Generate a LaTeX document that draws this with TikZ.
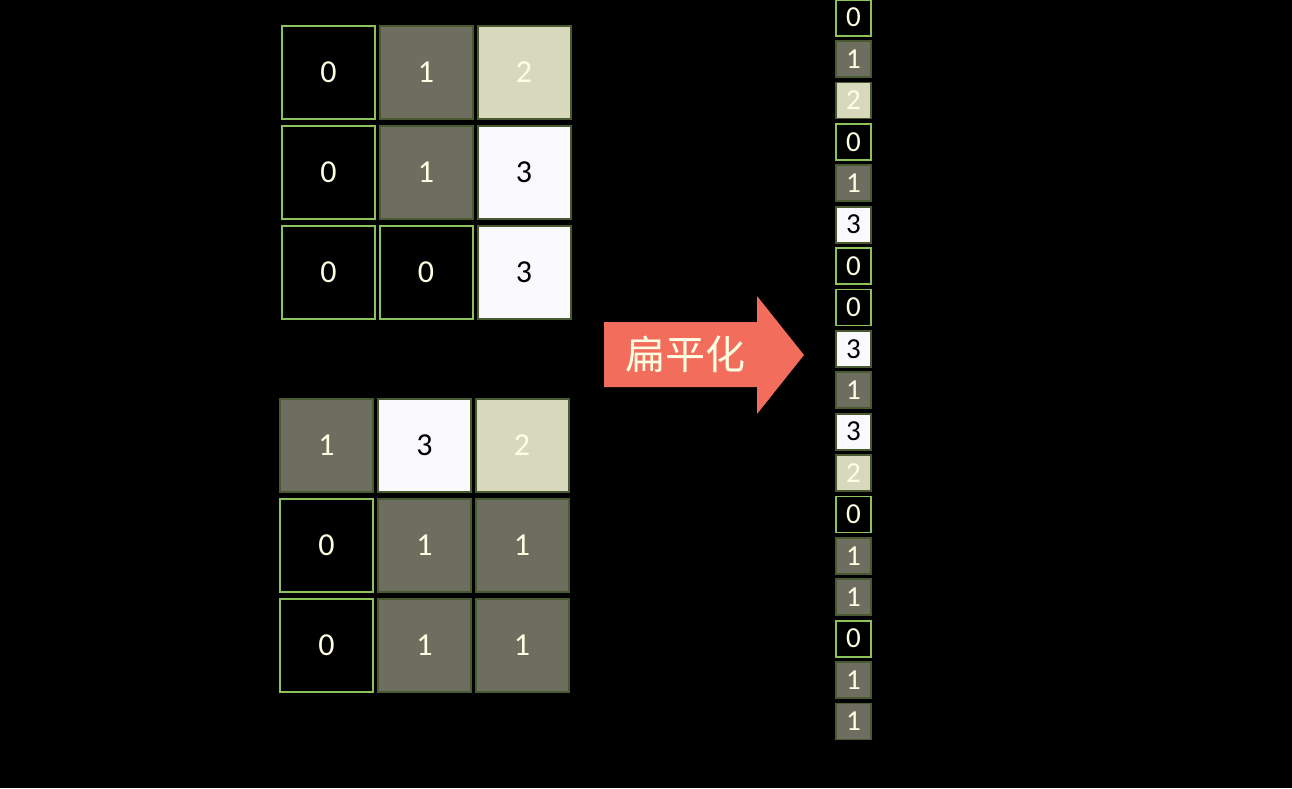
\documentclass[tikz,border=0pt]{standalone}
\usepackage{fontspec}
\setmainfont{Carlito}
\newfontfamily\cjk{Noto Sans CJK SC}
\definecolor{gbright}{HTML}{8CC25A}
\definecolor{gdark}{HTML}{4A5A30}
\definecolor{cgrey}{HTML}{6E6E60}
\definecolor{cbeige}{HTML}{D8D8BC}
\definecolor{cwhite}{HTML}{FAFAFE}
\definecolor{txtlight}{HTML}{FFFFE4}
\definecolor{coral}{HTML}{F36D5C}
\tikzset{
  x=1pt,y=-1pt,
  cellbase/.style={rectangle,inner sep=0pt,line width=2pt,minimum width=93pt,minimum height=93pt,font=\fontsize{32}{32}\selectfont},
  smallbase/.style={rectangle,inner sep=0pt,line width=1.8pt,minimum width=35pt,minimum height=36pt,font=\fontsize{29}{29}\selectfont},
  v0/.style={draw=gbright,fill=black,text=txtlight},
  v1/.style={draw=gdark,fill=cgrey,text=txtlight},
  v2/.style={draw=gdark,fill=cbeige,text=txtlight},
  v3/.style={draw=gdark,fill=cwhite,text=black},
}
\begin{document}
\begin{tikzpicture}
\fill[black] (0,0) rectangle (1292,788);
\useasboundingbox (0,0) rectangle (1292,788);
% top grid
\foreach \r/\y in {0/72,1/172,2/272}{
  \foreach \c/\x in {0/328.5,1/426,2/524}{
    \coordinate (t\r\c) at (\x,\y);
  }
}
\node[cellbase,v0] (ta) at (t00) {0};
\node[cellbase,v1] (tb) at (t01) {1};
\node[cellbase,v2] (tc) at (t02) {2};
\node[cellbase,v0] (td) at (t10) {0};
\node[cellbase,v1] (te) at (t11) {1};
\node[cellbase,v3] (tf) at (t12) {3};
\node[cellbase,v0] (tg) at (t20) {0};
\node[cellbase,v0] (th) at (t21) {0};
\node[cellbase,v3] (ti) at (t22) {3};
% bottom grid
\foreach \r/\y in {0/445,1/545,2/645}{
  \foreach \c/\x in {0/326.5,1/424.5,2/522}{
    \coordinate (b\r\c) at (\x,\y);
  }
}
\node[cellbase,v1] (ba) at (b00) {1};
\node[cellbase,v3] (bb) at (b01) {3};
\node[cellbase,v2] (bc) at (b02) {2};
\node[cellbase,v0] (bd) at (b10) {0};
\node[cellbase,v1] (be) at (b11) {1};
\node[cellbase,v1] (bf) at (b12) {1};
\node[cellbase,v0] (bg) at (b20) {0};
\node[cellbase,v1] (bh) at (b21) {1};
\node[cellbase,v1] (bi) at (b22) {1};
% arrow
\fill[coral] (604,322) -- (757,322) -- (757,296) -- (804,355) -- (757,414) -- (757,387) -- (604,387) -- cycle;
\node[text=txtlight,font=\cjk\fontsize{40}{40}\selectfont,inner sep=0pt] (lbl) at (685,354) {扁平化};
% flattened column
\foreach [count=\i from 0] \v in {0,1,2,0,1,3,0,0,3,1,3,2,0,1,1,0,1,1}{
  \node[smallbase,v\v] (f\i) at (853.5,{17.6+41.4*\i}) {\v};
}
\end{tikzpicture}
\end{document}
